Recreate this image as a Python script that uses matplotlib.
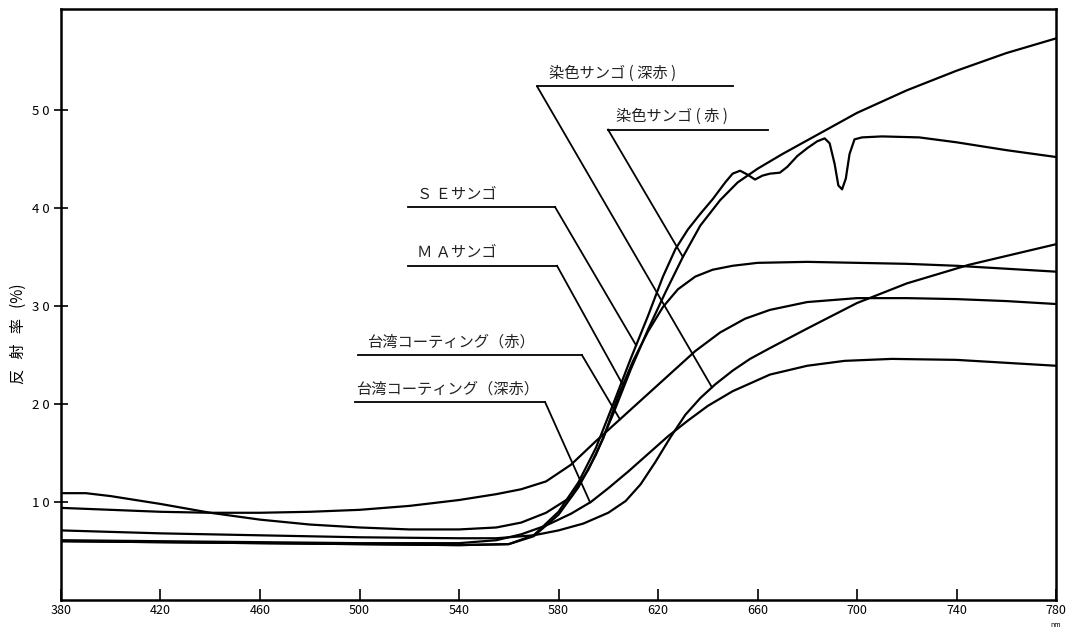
import numpy as np
import matplotlib
matplotlib.use('Agg')
import matplotlib.pyplot as plt

plt.rcParams['font.family'] = ['Noto Sans CJK JP', 'DejaVu Sans']

## values (wavelength nm, reflectance %)

# 染色サンゴ(赤)
wl_dyed_red = [380, 420, 460, 500, 540, 560, 570, 580, 588, 595, 602, 609, 616, 623, 630,
               637, 645, 652, 660, 670, 685, 700, 720, 740, 760, 780]
r_dyed_red = [6.0, 5.9, 5.8, 5.7, 5.6, 5.7, 6.5, 8.7, 11.5, 14.8, 19.0, 23.5, 27.6, 31.4, 35.0,
              38.2, 40.8, 42.6, 44.0, 45.5, 47.6, 49.7, 52.0, 54.0, 55.8, 57.3]

# 染色サンゴ(深赤)
wl_dyed_deep = [380, 420, 460, 500, 540, 555, 570, 580, 590, 600, 607, 613, 619, 625, 631,
                637, 643, 650, 657, 665, 680, 700, 720, 745, 765, 780]
r_dyed_deep = [7.1, 6.8, 6.6, 6.4, 6.3, 6.3, 6.6, 7.1, 7.8, 8.9, 10.1, 11.8, 14.1, 16.6, 18.9,
               20.6, 22.0, 23.4, 24.6, 25.7, 27.7, 30.3, 32.3, 34.2, 35.4, 36.3]

# SEサンゴ
wl_se = [380, 420, 460, 500, 540, 560, 570, 580, 588, 595, 602, 609, 616, 622, 627, 632, 637,
         642, 647, 650, 653, 656, 659, 662, 665, 669, 672, 676, 680, 684, 687, 689, 691, 692.5,
         694, 695.5, 697, 699, 702, 710, 725, 740, 760, 780]
r_se = [6.0, 5.9, 5.8, 5.7, 5.6, 5.7, 6.6, 9.0, 12.0, 15.5, 20.0, 24.6, 29.0, 33.0, 35.8, 37.8, 39.4,
        40.9, 42.6, 43.5, 43.8, 43.4, 42.9, 43.3, 43.5, 43.6, 44.2, 45.3, 46.1, 46.8, 47.1, 46.6, 44.5, 42.3,
        41.9, 43.0, 45.5, 47.0, 47.2, 47.3, 47.2, 46.7, 45.9, 45.2]

# MAサンゴ
wl_ma = [380, 390, 400, 420, 440, 460, 480, 500, 520, 540, 555, 565, 575, 585, 592, 598, 604,
         610, 616, 622, 628, 635, 642, 650, 660, 680, 700, 720, 740, 760, 780]
r_ma = [10.9, 10.9, 10.6, 9.8, 8.9, 8.2, 7.7, 7.4, 7.2, 7.2, 7.4, 7.9, 8.9, 10.5, 13.3, 16.5, 20.8,
        24.4, 27.4, 29.9, 31.7, 33.0, 33.7, 34.1, 34.4, 34.5, 34.4, 34.3, 34.1, 33.8, 33.5]

# 台湾コーティング(赤)
wl_tw_red = [380, 400, 420, 440, 460, 480, 500, 520, 540, 555, 565, 575, 585, 595, 605, 615,
             625, 635, 645, 655, 665, 680, 700, 720, 740, 760, 780]
r_tw_red = [9.4, 9.2, 9.0, 8.9, 8.9, 9.0, 9.2, 9.6, 10.2, 10.8, 11.3, 12.1, 13.8, 16.2, 18.5, 20.8,
            23.1, 25.4, 27.3, 28.7, 29.6, 30.4, 30.8, 30.8, 30.7, 30.5, 30.2]

# 台湾コーティング(深赤)
wl_tw_deep = [380, 420, 460, 500, 540, 555, 565, 575, 585, 593, 600, 608, 616, 624, 632, 640,
              650, 665, 680, 695, 714, 740, 760, 780]
r_tw_deep = [6.1, 6.0, 5.9, 5.8, 5.8, 6.1, 6.7, 7.6, 8.8, 10.0, 11.4, 13.1, 14.9, 16.7, 18.3, 19.8,
             21.3, 23.0, 23.9, 24.4, 24.6, 24.5, 24.2, 23.9]

x_ticks = [380, 420, 460, 500, 540, 580, 620, 660, 700, 740, 780]
y_ticks = [10, 20, 30, 40, 50]
y_tick_labels = ['1 0', '2 0', '3 0', '4 0', '5 0']

series = [
    ('染色サンゴ ( 深赤 )', wl_dyed_deep, r_dyed_deep),
    ('染色サンゴ ( 赤 )', wl_dyed_red, r_dyed_red),
    ('Ｓ Ｅサンゴ', wl_se, r_se),
    ('Ｍ Ａサンゴ', wl_ma, r_ma),
    ('台湾コーティング（赤）', wl_tw_red, r_tw_red),
    ('台湾コーティング（深赤）', wl_tw_deep, r_tw_deep),
]

## label layout: underline x0, x1, y, which end the leader leaves from,
## text left edge, and the wavelength where the leader meets its curve
label_layout = [
    (571.4, 650.2, 52.4, 'left', 576.0, 641.7),
    (599.9, 664.2, 48.0, 'left', 603.0, 630.0),
    (519.5, 578.6, 40.1, 'right', 523.0, 611.2),
    (519.5, 579.4, 34.1, 'right', 523.0, 605.9),
    (499.4, 589.4, 25.0, 'right', 503.0, 604.7),
    (498.2, 574.6, 20.2, 'right', 498.5, 592.7),
]

fig = plt.figure(figsize=(10.81, 6.31), dpi=100)
ax = fig.add_axes([61 / 1081, 31 / 631, 995 / 1081, 591 / 631])

for name, wl, r in series:
    ax.plot(wl, r, color='black', linewidth=1.6, solid_joinstyle='round')

for (name, wl, r), (x0, x1, yl, side, tx, tip) in zip(series, label_layout):
    ax.plot([x0, x1], [yl, yl], color='black', linewidth=1.3)
    sx = x0 if side == 'left' else x1
    ty = np.interp(tip, wl, r)
    ax.plot([sx, tip], [yl, ty], color='black', linewidth=1.3)
    ax.text(tx, yl + 0.5, name, fontsize=11, ha='left', va='bottom', color='#222222')

ax.set_xlim(380, 780)
ax.set_ylim(0, 60.3)

ax.set_xticks(x_ticks)
ax.set_xticklabels([str(t) for t in x_ticks], fontsize=9)
ax.set_yticks(y_ticks)
ax.set_yticklabels(y_tick_labels, fontsize=9.5)

ax.tick_params(axis='x', direction='in', length=8, width=1.2, pad=3)
ax.tick_params(axis='y', direction='inout', length=10, width=1.2, pad=3)

for s in ax.spines.values():
    s.set_linewidth(1.8)

ax.set_ylabel('反   射   率   (%)', fontsize=11)
ax.yaxis.set_label_coords(-0.034, 0.45)

ax.text(1.0, -0.043, 'nm', transform=ax.transAxes, fontsize=5, ha='center', va='center')

fig.savefig('out.png', dpi=100)
